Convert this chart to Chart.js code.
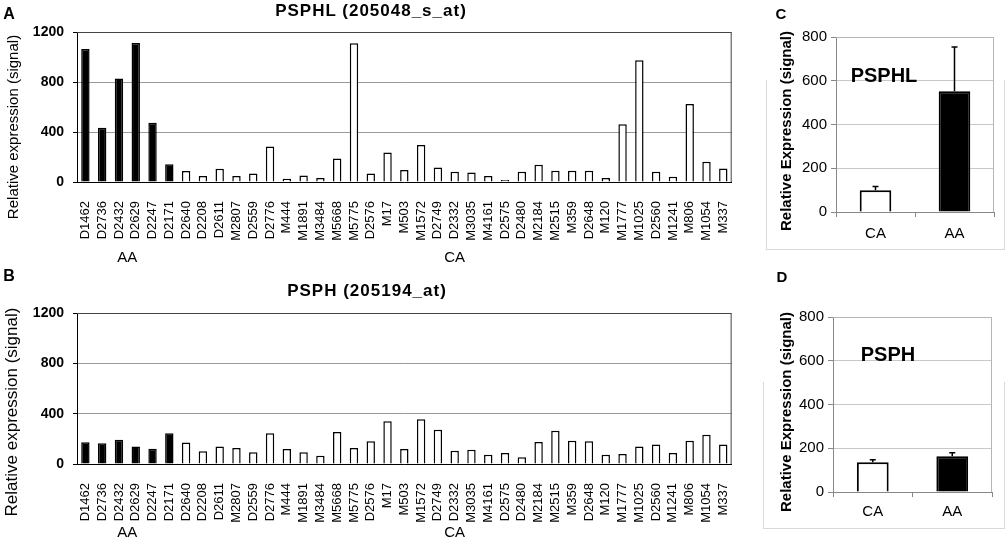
<!DOCTYPE html>
<html>
<head>
<meta charset="utf-8">
<script src="https://cdn.jsdelivr.net/npm/chart.js@4/dist/chart.umd.min.js"></script>
<style>
  body { margin: 0; background: #fff; width: 1006px; height: 548px; position: relative; overflow: hidden; font-family: "Liberation Sans", Arial, sans-serif; }
  canvas { position: absolute; }
  .txt { position: absolute; white-space: nowrap; line-height: 1; color: #000; transform: translate(-50%, -50%); }
  .rot { transform: translate(-50%, -50%) rotate(-90deg); }
  .frame { position: absolute; border: 1px solid #d9d9d9; border-top: none; }
</style>
</head>
<body>
<div class="frame" style="left:766px;top:80px;width:237px;height:169px"></div>
<div class="frame" style="left:763px;top:382px;width:240px;height:146px"></div>

<canvas id="chartA" width="750" height="270" style="left:0;top:0"></canvas>
<canvas id="chartB" width="750" height="278" style="left:0;top:270px"></canvas>
<canvas id="chartC" width="256" height="270" style="left:750px;top:0"></canvas>
<canvas id="chartD" width="256" height="278" style="left:750px;top:270px"></canvas>

<div class="txt" style="left:9px;top:14px;font-size:16px;font-weight:bold">A</div>
<div class="txt" style="left:9px;top:276px;font-size:16px;font-weight:bold">B</div>
<div class="txt" style="left:781px;top:13px;font-size:15px;font-weight:bold">C</div>
<div class="txt" style="left:782px;top:276px;font-size:15px;font-weight:bold">D</div>

<div class="txt" style="left:371px;top:10px;font-size:17px;font-weight:bold;letter-spacing:1px">PSPHL (205048_s_at)</div>
<div class="txt" style="left:367px;top:290px;font-size:17px;font-weight:bold;letter-spacing:1px">PSPH (205194_at)</div>

<div class="txt rot" style="left:12px;top:127px;font-size:15px">Relative expression (signal)</div>
<div class="txt rot" style="left:11px;top:412px;font-size:17px">Relative expression (signal)</div>
<div class="txt rot" style="left:785px;top:131px;font-size:15px;font-weight:bold">Relative Expression (signal)</div>
<div class="txt rot" style="left:785px;top:412px;font-size:15px;font-weight:bold">Relative Expression (signal)</div>

<div class="txt" style="left:884px;top:75px;font-size:20px;font-weight:bold">PSPHL</div>
<div class="txt" style="left:888px;top:354px;font-size:20px;font-weight:bold">PSPH</div>

<script>
// samples in plotted order, the first six are AA
const samples = ['D1462', 'D2736', 'D2432', 'D2629', 'D2247', 'D2171', 'D2640', 'D2208', 'D2611', 'M2807',
  'D2559', 'D2776', 'M444', 'M1891', 'M3484', 'M5668', 'M5775', 'D2576', 'M17', 'M503', 'M1572', 'D2749',
  'D2332', 'M3035', 'M4161', 'D2575', 'D2480', 'M2184', 'M2515', 'M359', 'D2648', 'M120', 'M1777', 'M1025',
  'D2560', 'M1241', 'M806', 'M1054', 'M337'];
const aaCount = 6;

// PSPHL (205048_s_at) per sample
const psphlSignal = [1065, 435, 828, 1112, 475, 143, 88, 48, 106, 48, 69, 284, 27, 53, 32, 188, 1110, 69,
  236, 96, 297, 117, 82, 77, 48, 16, 82, 138, 90, 90, 90, 32, 462, 974, 82, 42, 624, 162, 109];
// PSPH (205194_at) per sample
const psphSignal = [172, 164, 193, 140, 122, 244, 170, 101, 140, 127, 93, 244, 119, 93, 66, 254, 127, 180,
  339, 119, 355, 273, 106, 114, 74, 87, 53, 175, 265, 185, 180, 74, 79, 140, 154, 87, 185, 233, 154];

// group means with error
const meanGroups = ['CA', 'AA'];
const psphlMean = [99, 552];
const psphlErr = [18, 202];
const psphMean = [136, 163];
const psphErr = [12, 17];

const sampleTicks = [0, 400, 800, 1200];
const meanTicks = [0, 200, 400, 600, 800];

const FONT = '"Liberation Sans", Arial, sans-serif';
const barFill = samples.map((s, i) => i < aaCount ? '#000' : '#fff');
const groups = [
  { text: 'AA', from: 0, to: aaCount - 1 },
  { text: 'CA', from: aaCount, to: samples.length - 1 }
];

// top + right edge of the plot box
const frame = {
  id: 'frame',
  beforeDatasetsDraw(chart, args, o) {
    const a = chart.chartArea, c = chart.ctx;
    c.save();
    c.strokeStyle = o.color || '#444';
    c.lineWidth = 1;
    c.beginPath();
    c.moveTo(a.left, a.top + 0.5);
    c.lineTo(a.right - 0.5, a.top + 0.5);
    c.lineTo(a.right - 0.5, a.bottom);
    c.stroke();
    c.restore();
  }
};

// AA / CA under the sample names
const groupText = {
  id: 'groupText',
  afterDraw(chart, args, o) {
    if (!o.y) return;
    const x = chart.scales.x, c = chart.ctx;
    c.save();
    c.font = '15px ' + FONT;
    c.fillStyle = '#000';
    c.textAlign = 'center';
    c.textBaseline = 'middle';
    groups.forEach(g => {
      c.fillText(g.text, (x.getPixelForValue(g.from) + x.getPixelForValue(g.to)) / 2, o.y);
    });
    c.restore();
  }
};

// error whiskers on the mean bars
const errorBars = {
  id: 'errorBars',
  afterDatasetsDraw(chart) {
    const y = chart.scales.y, c = chart.ctx;
    chart.data.datasets.forEach((ds, di) => {
      if (!ds.errors) return;
      chart.getDatasetMeta(di).data.forEach((bar, i) => {
        const top = y.getPixelForValue(ds.data[i] + ds.errors[i]);
        c.save();
        c.strokeStyle = '#000';
        c.lineWidth = 1.5;
        c.beginPath();
        c.moveTo(bar.x, bar.y);
        c.lineTo(bar.x, top);
        c.moveTo(bar.x - 3, top);
        c.lineTo(bar.x + 3, top);
        c.stroke();
        c.restore();
      });
    });
  }
};

function sampleChart(id, values, pad, xHeight, labelY) {
  return new Chart(document.getElementById(id), {
    type: 'bar',
    data: {
      labels: samples,
      datasets: [{
        data: values,
        backgroundColor: barFill,
        borderColor: '#000',
        borderWidth: 1.5,
        barPercentage: 0.5,
        categoryPercentage: 1
      }]
    },
    options: {
      responsive: false,
      animation: false,
      layout: { padding: pad },
      plugins: {
        legend: { display: false },
        tooltip: { enabled: false },
        frame: { color: '#444' },
        groupText: { y: labelY }
      },
      scales: {
        x: {
          grid: { display: false },
          border: { color: '#000', width: 1 },
          ticks: { autoSkip: false, maxRotation: 90, minRotation: 90, padding: 11, color: '#000', font: { size: 13, family: FONT } },
          afterFit: s => { s.height = xHeight; }
        },
        y: {
          min: 0, max: 1200,
          afterBuildTicks: s => { s.ticks = sampleTicks.map(v => ({ value: v })); },
          afterFit: s => { s.width = 77; },
          border: { color: '#000', width: 1 },
          grid: {
            color: ctx => ctx.tick && ctx.tick.value === 1200 ? '#444' : '#9a9a9a',
            tickColor: '#000',
            tickLength: 4
          },
          ticks: { padding: 9, color: '#000', font: { size: 14, weight: 'bold', family: FONT }, callback: v => String(v) }
        }
      }
    },
    plugins: [frame, groupText]
  });
}

function meanChart(id, means, errs, pad, yWidth, xHeight, tickPad) {
  return new Chart(document.getElementById(id), {
    type: 'bar',
    data: {
      labels: meanGroups,
      datasets: [{
        data: means,
        errors: errs,
        backgroundColor: ['#fff', '#000'],
        borderColor: '#000',
        borderWidth: 2,
        barPercentage: 0.4,
        categoryPercentage: 1
      }]
    },
    options: {
      responsive: false,
      animation: false,
      layout: { padding: pad },
      plugins: {
        legend: { display: false },
        tooltip: { enabled: false },
        frame: { color: '#b5b5b5' }
      },
      scales: {
        x: {
          grid: { offset: true, drawOnChartArea: false, tickLength: 5, color: '#888' },
          border: { color: '#888', width: 1 },
          ticks: { padding: tickPad, color: '#000', font: { size: 15, family: FONT } },
          afterFit: s => { s.height = xHeight; }
        },
        y: {
          min: 0, max: 800,
          afterBuildTicks: s => { s.ticks = meanTicks.map(v => ({ value: v })); },
          afterFit: s => { s.width = yWidth; },
          border: { color: '#888', width: 1 },
          grid: { color: '#c8c8c8', tickColor: '#888', tickLength: 5 },
          ticks: { padding: 4, color: '#000', font: { size: 15, family: FONT }, callback: v => String(v) }
        }
      }
    },
    plugins: [frame, errorBars]
  });
}

sampleChart('chartA', psphlSignal, { left: 0, right: 9, top: 32, bottom: 0 }, 88, 258);
sampleChart('chartB', psphSignal, { left: 0, right: 12, top: 43, bottom: 0 }, 84, 263);
meanChart('chartC', psphlMean, psphlErr, { left: 0, right: 12, top: 37, bottom: 0 }, 86, 58, 8);
meanChart('chartD', psphMean, psphErr, { left: 0, right: 14, top: 47, bottom: 0 }, 83, 56, 6);
</script>
</body>
</html>
